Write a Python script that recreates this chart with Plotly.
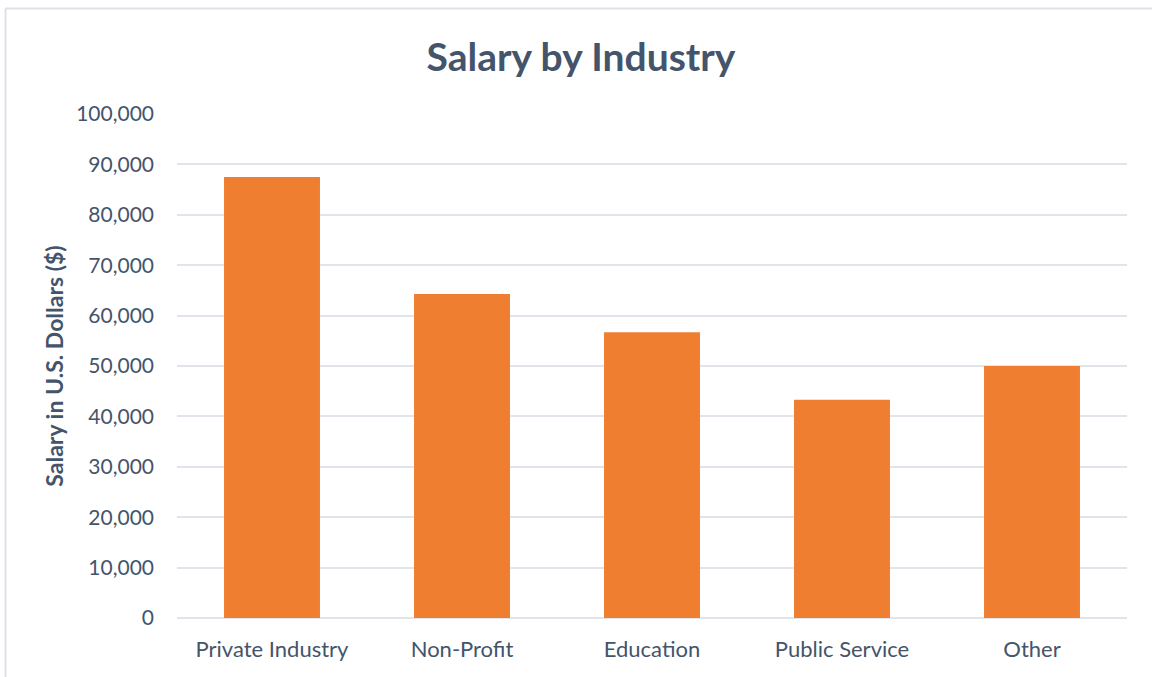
import plotly.graph_objects as go

industries = ["Private Industry", "Non-Profit", "Education", "Public Service", "Other"]
salaries = [87500, 64300, 56700, 43300, 50000]
y_ticks = list(range(0, 100001, 10000))
y_tick_labels = [f"{v:,}" for v in y_ticks]

TXT = "#44546A"
FONT = "Lato"

fig = go.Figure(
    go.Bar(
        x=industries,
        y=salaries,
        marker=dict(color="#EF7E30", line=dict(width=0)),
        width=0.505,
    )
)

W, H = 1152, 677
ml, mr, mt, mb = 177, 25, 114, 59
pw, ph = W - ml - mr, H - mt - mb

def px_x(p):
    return (p - ml) / pw

def px_y(p):
    return 1 - (p - mt) / ph

fig.update_layout(
    width=W,
    height=H,
    margin=dict(l=ml, r=mr, t=mt, b=mb),
    paper_bgcolor="white",
    plot_bgcolor="white",
    showlegend=False,
    title=dict(
        text="<b>Salary by Industry</b>",
        x=px_x(581),
        xref="paper",
        xanchor="center",
        y=1 - 57 / H,
        yref="container",
        yanchor="middle",
        font=dict(family=FONT, size=39, color=TXT),
    ),
    xaxis=dict(
        showgrid=False,
        showline=False,
        zeroline=False,
        ticks="",
        ticklabelstandoff=16,
        tickfont=dict(family=FONT, size=22, color=TXT),
    ),
    yaxis=dict(
        range=[0, 100000],
        tickvals=y_ticks,
        ticktext=y_tick_labels,
        showgrid=True,
        gridcolor="#E1E4EA",
        gridwidth=1.5,
        zeroline=True,
        zerolinecolor="#E1E4EA",
        zerolinewidth=1.5,
        ticks="",
        ticklabelstandoff=22,
        tickfont=dict(family=FONT, size=21, color=TXT),
        title=dict(
            text="<b>Salary in U.S. Dollars ($)</b>",
            font=dict(family=FONT, size=23, color=TXT),
            standoff=6,
        ),
    ),
    shapes=[
        dict(type="line", xref="paper", yref="paper",
             x0=px_x(5.5), x1=px_x(1152), y0=px_y(8.5), y1=px_y(8.5),
             line=dict(color="#DDE1E7", width=2)),
        dict(type="line", xref="paper", yref="paper",
             x0=px_x(5.5), x1=px_x(5.5), y0=px_y(8.5), y1=px_y(677),
             line=dict(color="#DDE1E7", width=2)),
    ],
)

fig.write_html("out.html", config={"displayModeBar": False},
               post_script="document.body.style.margin='0';")
